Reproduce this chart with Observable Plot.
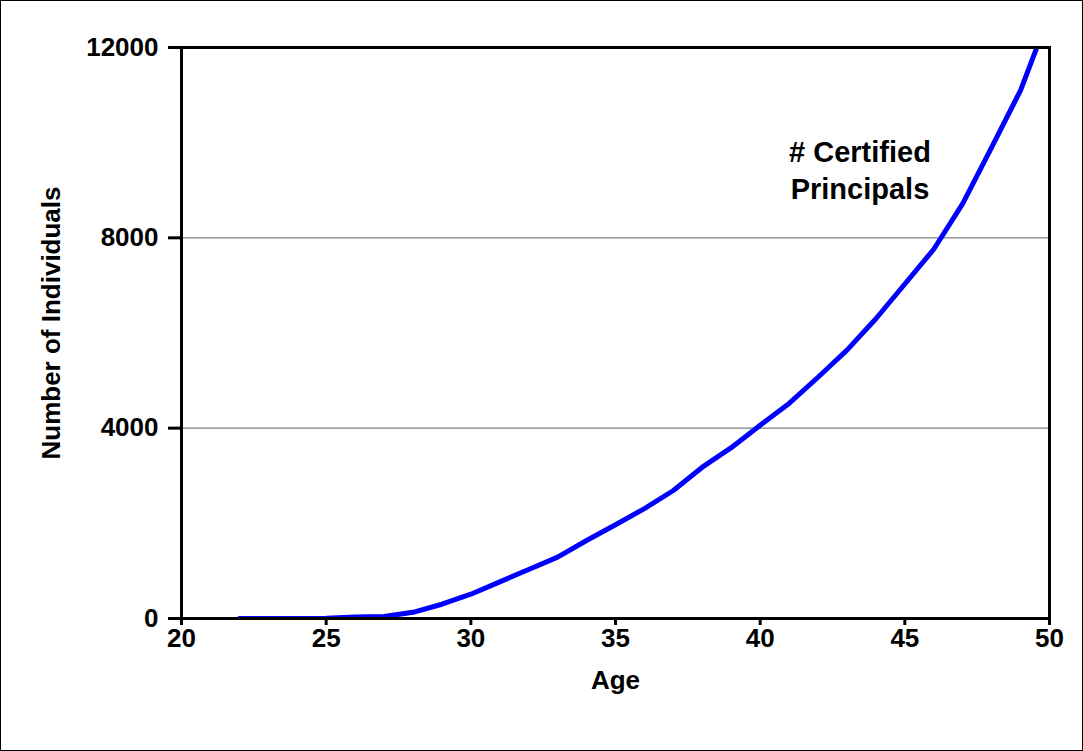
<!DOCTYPE html>
<html>
<head>
<meta charset="utf-8">
<script src="https://cdn.jsdelivr.net/npm/d3@7"></script>
<script src="https://cdn.jsdelivr.net/npm/@observablehq/plot@0.6"></script>
<style>
  html, body { margin: 0; padding: 0; background: #fff; }
  #wrap { position: relative; width: 1083px; height: 751px; }
  #border { position: absolute; left: 0; top: 0; width: 1083px; height: 751px; box-sizing: border-box; border: 1px solid #000; pointer-events: none; }
</style>
</head>
<body>
<div id="wrap"><div id="chart"></div><div id="border"></div></div>
<script>
const ages   = [22, 23, 24, 25, 26, 27, 28, 29, 30, 31, 32, 33, 34, 35, 36, 37, 38, 39, 40, 41, 42, 43, 44, 45, 46, 47, 48, 49, 50];
const counts = [0, 0, 0, 5, 30, 40, 130, 300, 510, 770, 1030, 1290, 1640, 1970, 2310, 2690, 3180, 3590, 4060, 4520, 5070, 5640, 6300, 7030, 7760, 8720, 9900, 11100, 12700];
const xTicks = [20, 25, 30, 35, 40, 45, 50];
const yTicks = [0, 4000, 8000, 12000];
const gridValues = [4000, 8000];
const xLabel = "Age";
const yLabel = ["Number of Individuals"];
const annotationAge = [43.45];
const annotationValue = [9450];
const annotationText = ["# Certified\nPrincipals"];

const data = ages.map((a, i) => ({age: a, value: counts[i]}));
const annot = annotationAge.map((a, i) => ({age: a, value: annotationValue[i], text: annotationText[i]}));

const chart = Plot.plot({
  width: 1083,
  height: 751,
  marginLeft: 181,
  marginRight: 34,
  marginTop: 47,
  marginBottom: 133,
  style: {fontFamily: "'Liberation Sans', Arial, sans-serif", fontSize: "26px", fontWeight: "bold", color: "#000", background: "#fff"},
  x: {domain: [20, 50]},
  y: {domain: [0, 12000]},
  marks: [
    Plot.ruleY(gridValues, {stroke: "#808080", strokeWidth: 1.2}),
    Plot.line(data, {x: "age", y: "value", stroke: "#0000ff", strokeWidth: 5, clip: true}),
    Plot.frame({stroke: "#000", strokeWidth: 3}),
    Plot.axisX({ticks: xTicks, tickSize: 7, tickPadding: 3, tickFormat: d => String(d), strokeWidth: 3,
      label: xLabel, labelAnchor: "center", labelArrow: "none", labelOffset: 70, fontSize: 26, fontWeight: "bold"}),
    Plot.axisY({ticks: yTicks, tickSize: 13, tickPadding: 10, tickFormat: d => String(d), strokeWidth: 3,
      label: null, fontSize: 26, fontWeight: "bold"}),
    Plot.text(yLabel, {frameAnchor: "left", textAnchor: "middle", lineAnchor: "middle", rotate: -90, dx: -130, dy: -10, fontSize: 26, fontWeight: "bold", fill: "#000"}),
    Plot.text(annot, {x: "age", y: "value", text: "text", fontSize: 29, fontWeight: "bold", lineHeight: 1.28, fill: "#000"})
  ]
});
document.getElementById("chart").appendChild(chart);
</script>
</body>
</html>
